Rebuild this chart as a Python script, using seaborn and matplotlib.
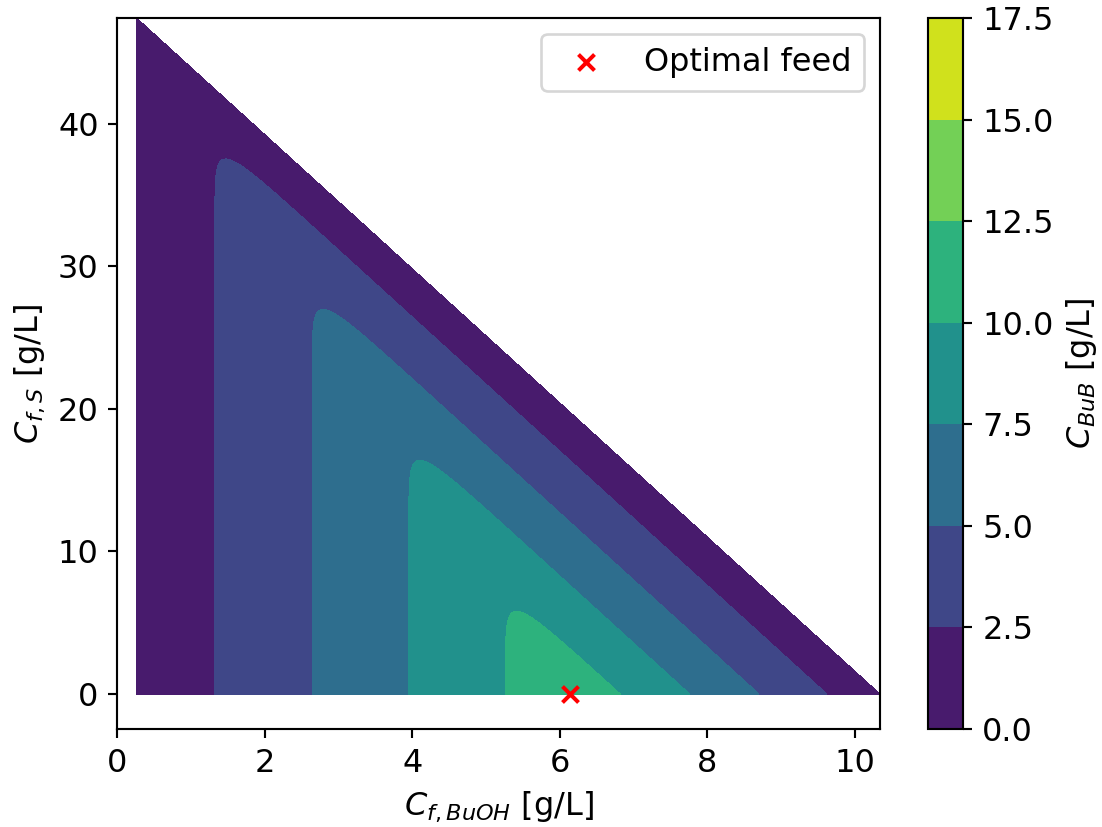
import numpy as np
import matplotlib
matplotlib.use("Agg")
import matplotlib.pyplot as plt
import seaborn as sns

plt.rcParams["font.size"] = 12

# Feasible feed region (triangle): BuOH feed vs substrate feed
feed_buoh_min = 0.26
feed_buoh_max = 10.34
feed_s_max = 47.4

# Product concentration levels and where they are crossed along C_f,S = 0
level_values = [2.5, 5.0, 7.5, 10.0]
rise_crossings_buoh = [1.32, 2.64, 3.95, 5.26]   # rising side (BuOH-limited)
fall_crossings_buoh = [9.62, 8.70, 7.76, 6.82]   # falling side (total-feed limited)
corner_smoothing = 0.53

# Optimal feed
optimal_buoh = [6.13]
optimal_s = [0.0]

contour_levels = [0.0, 2.5, 5.0, 7.5, 10.0, 12.5, 15.0, 17.5]


def lin_extrap(x, xp, fp):
    """Piecewise-linear interpolation with linear extension past both ends."""
    xp = np.asarray(xp, float)
    fp = np.asarray(fp, float)
    out = np.interp(x, xp, fp)
    lo_slope = (fp[1] - fp[0]) / (xp[1] - xp[0])
    hi_slope = (fp[-1] - fp[-2]) / (xp[-1] - xp[-2])
    out = np.where(x < xp[0], fp[0] + (x - xp[0]) * lo_slope, out)
    out = np.where(x > xp[-1], fp[-1] + (x - xp[-1]) * hi_slope, out)
    return out


# Curvilinear grid covering the triangle exactly
xs = np.linspace(feed_buoh_min, feed_buoh_max, 600)
us = np.linspace(0.0, 1.0, 600)
X, U = np.meshgrid(xs, us)
Y = U * feed_s_max * (feed_buoh_max - X) / (feed_buoh_max - feed_buoh_min)

rise = lin_extrap(X, rise_crossings_buoh, level_values)
x_equiv = X + Y * (feed_buoh_max - feed_buoh_min) / feed_s_max
fall = lin_extrap(x_equiv, fall_crossings_buoh[::-1], level_values[::-1])
Z = -corner_smoothing * np.logaddexp(-rise / corner_smoothing, -fall / corner_smoothing)
Z = np.clip(Z, 0.01, None)

W, H, DPI = 1102, 827, 192
fig = plt.figure(figsize=(W / DPI, H / DPI), dpi=DPI)
ax = fig.add_axes([117.4 / W, 98 / H, (880 - 117.4) / W, (729 - 18) / H])
cax = fig.add_axes([927.5 / W, 98 / H, 36 / W, (729 - 18) / H])

cs = ax.contourf(X, Y, Z, levels=contour_levels, cmap="viridis", vmin=0, vmax=17.5)

sns.scatterplot(x=optimal_buoh, y=optimal_s, marker="x", color="red", s=36,
                linewidth=1.5, label="Optimal feed", ax=ax, zorder=3)
ax.legend(loc="upper right")

ax.set_xlim(0, feed_buoh_max)
ax.set_ylim(-2.45, feed_s_max)
ax.set_xlabel("$C_{f,BuOH}$ [g/L]")
ax.set_ylabel("$C_{f,S}$ [g/L]")

cb = fig.colorbar(cs, cax=cax)
cb.set_label("$C_{BuB}$ [g/L]")

fig.savefig("out.png", dpi=DPI)
